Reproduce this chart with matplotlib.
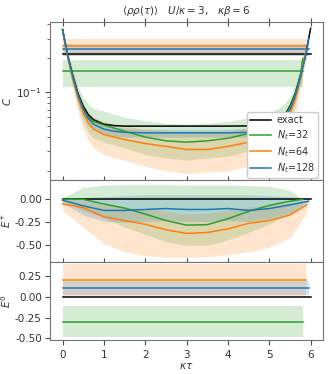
import numpy as np
import matplotlib
matplotlib.use("Agg")
import matplotlib.pyplot as plt
from matplotlib.ticker import FormatStrFormatter

# --- data --------------------------------------------------------------
# common tau grid for the C panel (each series then gets its own end point)
tau_base = [0, 0.125, 0.25, 0.375, 0.5, 0.625, 0.75, 1, 1.25, 1.5, 2, 2.5, 3,
            3.5, 4, 4.5, 4.75, 5, 5.25, 5.375, 5.5, 5.625, 5.75]

tau_ex = tau_base + [5.875, 6]
C_ex = [0.36, 0.21, 0.139, 0.097, 0.075, 0.063, 0.057, 0.052, 0.0505, 0.050, 0.050,
        0.050, 0.050, 0.050, 0.050, 0.0502, 0.0505, 0.052, 0.057, 0.063, 0.075, 0.097,
        0.139, 0.21, 0.37]

tau_32 = tau_base + [5.81]
C_32 = [0.36, 0.21, 0.135, 0.093, 0.071, 0.060, 0.055, 0.051, 0.048, 0.045, 0.040,
        0.037, 0.036, 0.037, 0.039, 0.043, 0.046, 0.050, 0.056, 0.062, 0.073, 0.095,
        0.14, 0.20]
C_32_hi = [0.38, 0.23, 0.155, 0.112, 0.09, 0.078, 0.072, 0.068, 0.064, 0.060, 0.056,
           0.053, 0.052, 0.053, 0.055, 0.059, 0.062, 0.066, 0.073, 0.08, 0.092, 0.115,
           0.16, 0.22]
C_32_lo = [0.34, 0.19, 0.115, 0.075, 0.055, 0.044, 0.039, 0.036, 0.034, 0.032, 0.028,
           0.026, 0.025, 0.026, 0.027, 0.030, 0.032, 0.035, 0.040, 0.045, 0.055, 0.075,
           0.12, 0.18]

tau_64 = tau_base + [5.9]
C_64 = [0.36, 0.205, 0.13, 0.088, 0.065, 0.053, 0.047, 0.042, 0.040, 0.038, 0.035,
        0.033, 0.031, 0.031, 0.033, 0.036, 0.038, 0.042, 0.048, 0.054, 0.064, 0.085,
        0.13, 0.25]
C_64_hi = [0.38, 0.225, 0.15, 0.105, 0.08, 0.067, 0.06, 0.055, 0.052, 0.050, 0.047,
           0.045, 0.044, 0.044, 0.045, 0.048, 0.05, 0.054, 0.06, 0.067, 0.08, 0.105,
           0.155, 0.29]
C_64_lo = [0.33, 0.18, 0.105, 0.067, 0.047, 0.037, 0.032, 0.028, 0.026, 0.025, 0.022,
           0.020, 0.019, 0.0195, 0.020, 0.022, 0.024, 0.027, 0.032, 0.037, 0.045, 0.062,
           0.10, 0.21]

tau_128 = tau_base + [5.875, 5.95]
C_128 = [0.36, 0.21, 0.136, 0.094, 0.071, 0.058, 0.052, 0.047, 0.045, 0.044, 0.0436,
         0.0436, 0.0436, 0.0436, 0.0436, 0.044, 0.045, 0.047, 0.052, 0.058, 0.070, 0.092,
         0.135, 0.21, 0.30]
C_128_hi = [0.37, 0.225, 0.146, 0.101, 0.077, 0.063, 0.056, 0.051, 0.049, 0.048, 0.047,
            0.047, 0.047, 0.047, 0.047, 0.048, 0.049, 0.051, 0.056, 0.063, 0.076, 0.099,
            0.145, 0.225, 0.32]
C_128_lo = [0.35, 0.195, 0.126, 0.087, 0.065, 0.053, 0.048, 0.043, 0.041, 0.040, 0.040,
            0.040, 0.040, 0.040, 0.040, 0.040, 0.041, 0.043, 0.048, 0.053, 0.064, 0.085,
            0.125, 0.195, 0.28]

# constant levels drawn in the C panel
lvl_ex = 0.217
lvl_32, lvl_32_lo, lvl_32_hi = 0.153, 0.111, 0.192
lvl_64, lvl_64_lo, lvl_64_hi = 0.26, 0.21, 0.30
lvl_128, lvl_128_lo, lvl_128_hi = 0.24, 0.21, 0.27

# E+ panel
tE_32 = [0, 0.5, 1, 1.5, 2, 2.5, 3, 3.5, 4, 4.5, 5, 5.5, 5.81]
Ep_32 = [0, 0, -0.05, -0.095, -0.16, -0.23, -0.28, -0.275, -0.21, -0.13, -0.065, -0.02, 0]
Ep_32_lo = [-0.02, -0.12, -0.20, -0.30, -0.38, -0.46, -0.50, -0.50, -0.44, -0.36, -0.27, -0.16, -0.05]
Ep_32_hi = [0.02, 0.13, 0.155, 0.16, 0.16, 0.16, 0.155, 0.155, 0.155, 0.15, 0.14, 0.10, 0.0]

tE_64 = [0, 0.5, 1, 1.5, 2, 2.5, 3, 3.5, 4, 4.5, 5, 5.5, 5.9]
Ep_64 = [-0.05, -0.09, -0.19, -0.23, -0.27, -0.33, -0.37, -0.36, -0.32, -0.26, -0.23, -0.17, -0.06]
Ep_64_lo = [-0.12, -0.30, -0.48, -0.57, -0.61, -0.63, -0.63, -0.62, -0.60, -0.57, -0.52, -0.42, -0.15]
Ep_64_hi = [-0.01, -0.02, -0.05, -0.08, -0.10, -0.13, -0.16, -0.15, -0.12, -0.08, -0.06, -0.04, -0.02]

tE_128 = [0, 0.5, 1, 1.5, 2, 2.5, 3, 3.5, 4, 4.5, 5, 5.5, 5.95]
Ep_128 = [-0.01, -0.07, -0.12, -0.12, -0.11, -0.10, -0.11, -0.11, -0.10, -0.12, -0.10, -0.06, -0.02]
Ep_128_lo = [-0.04, -0.17, -0.24, -0.25, -0.24, -0.23, -0.24, -0.24, -0.23, -0.24, -0.21, -0.15, -0.05]
Ep_128_hi = [0.01, 0.02, 0.03, 0.04, 0.05, 0.05, 0.05, 0.05, 0.05, 0.05, 0.04, 0.03, 0.01]

# E0 panel (constants)
E0_32, E0_32_lo, E0_32_hi = -0.30, -0.48, -0.11
E0_64, E0_64_lo, E0_64_hi = 0.20, 0.01, 0.39
E0_128, E0_128_lo, E0_128_hi = 0.105, 0.02, 0.19

c32, c64, c128 = "tab:green", "tab:orange", "tab:blue"
lw = 1.1
a = 0.2

plt.rcParams["font.size"] = 7.5
plt.rcParams["axes.edgecolor"] = "0.45"
plt.rcParams["xtick.color"] = "0.3"
plt.rcParams["ytick.color"] = "0.3"
plt.rcParams["xtick.labelcolor"] = "0.2"
plt.rcParams["ytick.labelcolor"] = "0.2"
plt.rcParams["text.color"] = "0.2"
plt.rcParams["axes.labelcolor"] = "0.2"

fig = plt.figure(figsize=(3.32, 3.74), dpi=100)
gs = fig.add_gridspec(3, 1, height_ratios=[158, 82, 78], hspace=0,
                      left=0.151, right=0.973, top=0.941, bottom=0.091)
ax0 = fig.add_subplot(gs[0])
ax1 = fig.add_subplot(gs[1], sharex=ax0)
ax2 = fig.add_subplot(gs[2], sharex=ax0)


def hband(ax, x1, y, lo, hi, c):
    ax.fill_between([0, x1], lo, hi, color=c, alpha=a, lw=0)
    ax.plot([0, x1], [y, y], color=c, lw=lw)


# --- C panel ---
ax0.set_yscale("log")
ax0.fill_between(tau_32, C_32_lo, C_32_hi, color=c32, alpha=a, lw=0)
ax0.fill_between(tau_64, C_64_lo, C_64_hi, color=c64, alpha=a, lw=0)
ax0.fill_between(tau_128, C_128_lo, C_128_hi, color=c128, alpha=a, lw=0)
ax0.plot([0, 6], [lvl_ex, lvl_ex], color="k", lw=lw)
hband(ax0, tau_32[-1], lvl_32, lvl_32_lo, lvl_32_hi, c32)
hband(ax0, tau_64[-1], lvl_64, lvl_64_lo, lvl_64_hi, c64)
hband(ax0, tau_128[-1], lvl_128, lvl_128_lo, lvl_128_hi, c128)
ax0.plot(tau_ex, C_ex, color="k", lw=lw, label="exact")
ax0.plot(tau_32, C_32, color=c32, lw=lw, label="$N_t$=32")
ax0.plot(tau_64, C_64, color=c64, lw=lw, label="$N_t$=64")
ax0.plot(tau_128, C_128, color=c128, lw=lw, label="$N_t$=128")
ax0.set_ylim(0.0166, 0.42)
ax0.set_ylabel("$C$")
ax0.set_title(r"$\langle\rho\rho(\tau)\rangle$   $U/\kappa=3$,   $\kappa\beta=6$",
              fontsize=7.5, pad=6)
ax0.legend(loc="lower right", fontsize=7, handlelength=2.2, borderpad=0.3,
           labelspacing=0.3, handletextpad=0.6, framealpha=1,
           bbox_to_anchor=(1.0, -0.02))

# --- E+ panel ---
ax1.fill_between(tE_32, Ep_32_lo, Ep_32_hi, color=c32, alpha=a, lw=0)
ax1.fill_between(tE_64, Ep_64_lo, Ep_64_hi, color=c64, alpha=a, lw=0)
ax1.fill_between(tE_128, Ep_128_lo, Ep_128_hi, color=c128, alpha=a, lw=0)
ax1.plot([0, 6], [0, 0], color="k", lw=lw)
ax1.plot(tE_32, Ep_32, color=c32, lw=lw)
ax1.plot(tE_64, Ep_64, color=c64, lw=lw)
ax1.plot(tE_128, Ep_128, color=c128, lw=lw)
ax1.set_ylim(-0.68, 0.21)
ax1.set_yticks([0, -0.25, -0.5])
ax1.set_ylabel("$E^{+}$")

# --- E0 panel ---
hband(ax2, tau_32[-1], E0_32, E0_32_lo, E0_32_hi, c32)
hband(ax2, tau_64[-1], E0_64, E0_64_lo, E0_64_hi, c64)
hband(ax2, tau_128[-1], E0_128, E0_128_lo, E0_128_hi, c128)
ax2.plot([0, 6], [0, 0], color="k", lw=lw)
ax2.set_ylim(-0.52, 0.42)
ax2.set_yticks([0.25, 0, -0.25, -0.5])
ax2.set_ylabel("$E^{0}$")
ax2.set_xlabel(r"$\kappa\tau$", labelpad=1)

ax0.set_xlim(-0.3, 6.3)
ax2.set_xticks([0, 1, 2, 3, 4, 5, 6])
for ax in (ax0, ax1):
    ax.tick_params(axis="x", direction="inout", length=6, labelbottom=False)
ax0.tick_params(axis="x", top=True)
ax2.tick_params(axis="x", direction="out")
for ax in (ax1, ax2):
    ax.yaxis.set_major_formatter(FormatStrFormatter("%.2f"))
for ax in (ax0, ax1, ax2):
    ax.tick_params(axis="y", pad=2.5)
    ax.yaxis.set_label_coords(-0.135, 0.5)

fig.savefig("out.png", dpi=100)
